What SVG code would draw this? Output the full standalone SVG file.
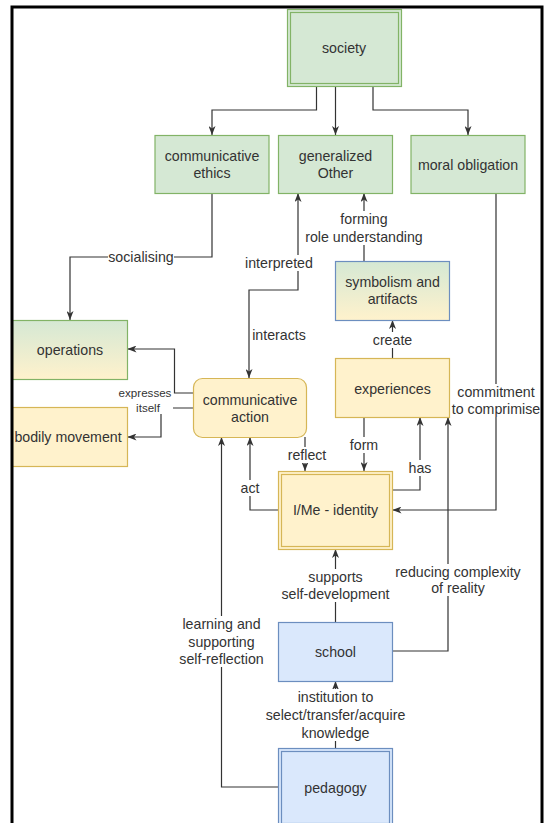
<svg xmlns="http://www.w3.org/2000/svg" width="546" height="823" viewBox="0 0 546 823">
<style>
text{font-family:"Liberation Sans",Arial,sans-serif;font-size:14.2px;fill:#333333;text-anchor:middle}
.small{font-size:11.6px}
.green{fill:#d5e8d4;stroke:#82b366;stroke-width:1.2}
.yellow{fill:#fff2cc;stroke:#d6b656;stroke-width:1.2}
.blue{fill:#dae8fc;stroke:#6c8ebf;stroke-width:1.2}
.inner{fill:none;stroke-width:1.2}
.edge{fill:none;stroke:#333333;stroke-width:1.2}
.lbl{fill:#ffffff}
</style>
<defs>
<marker id="arr" viewBox="0 0 9 7" refX="9" refY="3.5" markerWidth="9" markerHeight="7" markerUnits="userSpaceOnUse" orient="auto-start-reverse">
<path d="M0,0 L9,3.5 L0,7 L2.5,3.5 z" fill="#333333"/>
</marker>
<linearGradient id="gy" x1="0" y1="0" x2="0" y2="1">
<stop offset="0" stop-color="#d5e8d4"/>
<stop offset="1" stop-color="#fff2cc"/>
</linearGradient>
</defs>
<rect width="546" height="823" fill="#ffffff"/>

<g id="connectors">
<path class="edge" d="M316.5,87 V110 H212 V135" marker-end="url(#arr)"/>
<path class="edge" d="M335.5,87 V135" marker-end="url(#arr)"/>
<path class="edge" d="M373,87 V110 H468 V135" marker-end="url(#arr)"/>
<path class="edge" d="M212,193 V257 H70 V320" marker-end="url(#arr)"/>
<path class="edge" d="M249,378 V290 H298 V193" marker-start="url(#arr)" marker-end="url(#arr)"/>
<path class="edge" d="M364,261 V193" marker-end="url(#arr)"/>
<path class="edge" d="M392.5,358 V320" marker-end="url(#arr)"/>
<path class="edge" d="M193.5,393 H174.5 V349 H127.5" marker-end="url(#arr)"/>
<path class="edge" d="M193.5,408 H161 V437 H127.5" marker-end="url(#arr)"/>
<path class="edge" d="M305,437 V471" marker-end="url(#arr)"/>
<path class="edge" d="M278.5,510 H250 V437" marker-end="url(#arr)"/>
<path class="edge" d="M364,417 V471" marker-end="url(#arr)"/>
<path class="edge" d="M392.5,490 H420 V417" marker-end="url(#arr)"/>
<path class="edge" d="M496,193 V510 H392.5" marker-end="url(#arr)"/>
<path class="edge" d="M392.5,651 H448 V417" marker-end="url(#arr)"/>
<path class="edge" d="M335.5,622 V549" marker-end="url(#arr)"/>
<path class="edge" d="M335.5,748 V681" marker-end="url(#arr)"/>
<path class="edge" d="M278.5,787 H221.5 V437" marker-end="url(#arr)"/>

<rect class="lbl" x="108" y="249" width="66" height="16"/>
<text x="141" y="262">socialising</text>
<rect class="lbl" x="245" y="255" width="68" height="16"/>
<text x="279" y="268">interpreted</text>
<text x="279" y="340">interacts</text>
<rect class="lbl" x="304" y="211" width="120" height="34"/>
<text x="364" y="224">forming</text>
<text x="364" y="242">role understanding</text>
<rect class="lbl" x="370" y="332" width="44" height="16"/>
<text x="392.5" y="345">create</text>
<rect class="lbl" x="118" y="386" width="55" height="28"/>
<text class="small" x="145" y="397">expresses</text>
<text class="small" x="148" y="412">itself</text>
<rect class="lbl" x="286" y="447" width="40" height="16"/>
<text x="307" y="460">reflect</text>
<rect class="lbl" x="239" y="480" width="22" height="16"/>
<text x="250" y="493">act</text>
<rect class="lbl" x="347" y="437" width="34" height="16"/>
<text x="364" y="450">form</text>
<rect class="lbl" x="408" y="460" width="24" height="16"/>
<text x="420" y="473">has</text>
<rect class="lbl" x="452" y="384" width="88" height="33"/>
<text x="496" y="397">commitment</text>
<text x="496" y="414">to comprimise</text>
<rect class="lbl" x="395" y="564" width="126" height="32"/>
<text x="458" y="577">reducing complexity</text>
<text x="458" y="593">of reality</text>
<rect class="lbl" x="280" y="569" width="111" height="33"/>
<text x="335.5" y="582">supports</text>
<text x="335.5" y="599">self-development</text>
<rect class="lbl" x="264" y="689" width="143" height="52"/>
<text x="335.5" y="702">institution to</text>
<text x="335.5" y="720">select/transfer/acquire</text>
<text x="335.5" y="738">knowledge</text>
<rect class="lbl" x="180" y="616" width="84" height="51"/>
<text x="221.5" y="629">learning and</text>
<text x="221.5" y="647">supporting</text>
<text x="221.5" y="664">self-reflection</text>
</g>

<g id="society">
<rect class="green" x="287.5" y="9.5" width="114" height="77"/>
<rect class="inner" stroke="#82b366" x="290.5" y="12.5" width="108" height="71"/>
<text x="344" y="53">society</text>
</g>
<g id="communicative-ethics">
<rect class="green" x="155" y="135.5" width="114" height="58"/>
<text x="212" y="161">communicative</text>
<text x="212" y="178">ethics</text>
</g>
<g id="generalized-other">
<rect class="green" x="278.5" y="135.5" width="114" height="58"/>
<text x="335.5" y="161">generalized</text>
<text x="335.5" y="178">Other</text>
</g>
<g id="moral-obligation">
<rect class="green" x="411" y="135.5" width="114" height="58"/>
<text x="468" y="170">moral obligation</text>
</g>
<g id="symbolism">
<rect fill="url(#gy)" stroke="#6c8ebf" stroke-width="1.2" x="335.5" y="261.5" width="114" height="59"/>
<text x="392.5" y="287">symbolism and</text>
<text x="392.5" y="304">artifacts</text>
</g>
<g id="operations">
<rect fill="url(#gy)" stroke="#82b366" stroke-width="1.2" x="12.5" y="320.5" width="115" height="59"/>
<text x="70" y="355">operations</text>
</g>
<g id="bodily-movement">
<rect class="yellow" x="12.5" y="407.5" width="115" height="59"/>
<text x="68" y="442">bodily movement</text>
</g>
<g id="communicative-action">
<rect class="yellow" x="193.5" y="378.5" width="113" height="59" rx="9"/>
<text x="250" y="405">communicative</text>
<text x="250" y="422">action</text>
</g>
<g id="experiences">
<rect class="yellow" x="335.5" y="358.5" width="114" height="59"/>
<text x="392.5" y="394">experiences</text>
</g>
<g id="identity">
<rect class="yellow" x="278.5" y="471.5" width="114" height="78"/>
<rect class="inner" stroke="#d6b656" x="281.5" y="474.5" width="108" height="72"/>
<text x="335.5" y="515">I/Me - identity</text>
</g>
<g id="school">
<rect class="blue" x="278.5" y="622.5" width="114" height="59"/>
<text x="335.5" y="657">school</text>
</g>
<g id="pedagogy">
<rect class="blue" x="278.5" y="748.5" width="114" height="78"/>
<rect class="inner" stroke="#6c8ebf" x="281.5" y="751.5" width="108" height="72"/>
<text x="335.5" y="793">pedagogy</text>
</g>

<rect x="12" y="7" width="530" height="830" fill="none" stroke="#000000" stroke-width="3"/>
</svg>
